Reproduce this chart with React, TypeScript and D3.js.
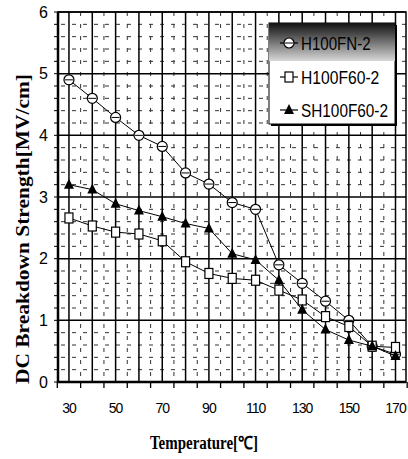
import React from "react";
import { scaleLinear, line, range } from "d3";

const temps = [30, 40, 50, 60, 70, 80, 90, 100, 110, 120, 130, 140, 150, 160, 170];
const fnValues = [4.9, 4.6, 4.29, 4.0, 3.82, 3.39, 3.21, 2.91, 2.8, 1.9, 1.6, 1.31, 1.0, 0.58, 0.45];
const f60Values = [2.66, 2.53, 2.43, 2.4, 2.29, 1.95, 1.76, 1.68, 1.65, 1.49, 1.33, 1.06, 0.9, 0.58, 0.56];
const shValues = [3.2, 3.12, 2.89, 2.78, 2.68, 2.57, 2.49, 2.08, 1.98, 1.65, 1.17, 0.85, 0.68, 0.58, 0.42];
const seriesNames = ["H100FN-2", "H100F60-2", "SH100F60-2"];
const xTickLabels = [30, 50, 70, 90, 110, 130, 150, 170];
const yTickLabels = [0, 1, 2, 3, 4, 5, 6];

const narrow = "'Liberation Sans Narrow', 'Arial Narrow', 'Liberation Sans', Arial, sans-serif";

function Marker({ kind, x, y }: { kind: string; x: number; y: number }) {
  if (kind === "circle") {
    return (
      <g>
        <circle cx={x} cy={y} r={5} fill="white" stroke="black" strokeWidth={1.2} />
        <line x1={x - 4} x2={x + 4} y1={y} y2={y} stroke="black" strokeWidth={1} />
      </g>
    );
  }
  if (kind === "square") {
    return <rect x={x - 4} y={y - 5} width={8} height={10} fill="white" stroke="black" strokeWidth={1.2} />;
  }
  return <path d={`M${x},${y - 6}L${x + 5},${y + 4}L${x - 5},${y + 4}Z`} fill="black" />;
}

export default function App() {
  const width = 408,
    height = 459;
  const left = 58,
    right = 406,
    top = 12,
    bottom = 382;

  const x = scaleLinear().domain([25.3, 174.5]).range([left, right]);
  const y = scaleLinear().domain([0, 6]).range([bottom, top]);

  const series = [
    { name: seriesNames[0], values: fnValues, kind: "circle" },
    { name: seriesNames[1], values: f60Values, kind: "square" },
    { name: seriesNames[2], values: shValues, kind: "triangle" }
  ];

  const path = line<number>()
    .x((_, i) => x(temps[i]))
    .y(d => y(d));

  const majorX = range(30, 171, 10);
  const minorX = range(35, 171, 10);
  const minorY = range(0, 30).map(i => i * 0.2).filter(v => Math.abs(v - Math.round(v)) > 0.01);
  const xTicks = range(25, 176, 10);

  // legend
  const lx = 269,
    ly = 23,
    lw = 126,
    lh = 101;
  const rowY = [43, 77, 110];

  return (
    <svg
      width={width}
      height={height}
      style={{ position: "absolute", left: 0, top: 0, background: "white" }}
    >
      <defs>
        <linearGradient id="legendShade" x1="0" y1="0" x2="0" y2="1">
          <stop offset="0" stopColor="#111" />
          <stop offset="0.35" stopColor="#555" />
          <stop offset="1" stopColor="#d8d8d8" />
        </linearGradient>
      </defs>
      <rect width={width} height={height} fill="white" />

      {/* minor dashed grid */}
      {minorY.map(v => (
        <line
          key={"my" + v}
          x1={left}
          x2={right}
          y1={y(v)}
          y2={y(v)}
          stroke="#333"
          strokeWidth={1}
          strokeDasharray="4 7"
          strokeDashoffset={-3}
        />
      ))}
      {minorX.map(v => (
        <line
          key={"mx" + v}
          x1={x(v)}
          x2={x(v)}
          y1={top}
          y2={bottom}
          stroke="#333"
          strokeWidth={1}
          strokeDasharray="4 8"
        />
      ))}

      {/* major grid */}
      {yTickLabels.map(v => (
        <line key={"gy" + v} x1={left} x2={right} y1={y(v)} y2={y(v)} stroke="black" strokeWidth={1.5} />
      ))}
      {majorX.map(v => (
        <line key={"gx" + v} x1={x(v)} x2={x(v)} y1={top} y2={bottom} stroke="black" strokeWidth={1.5} />
      ))}

      {/* frame */}
      <rect x={left} y={top} width={right - left} height={bottom - top} fill="none" stroke="black" strokeWidth={1.5} />
      <line x1={left} x2={left} y1={top} y2={bottom + 1} stroke="black" strokeWidth={2.5} />
      <line x1={left} x2={right} y1={bottom} y2={bottom} stroke="black" strokeWidth={2.5} />

      {/* ticks */}
      {xTicks.map(v => (
        <line key={"xt" + v} x1={x(v)} x2={x(v)} y1={bottom} y2={bottom + 6} stroke="black" strokeWidth={1.3} />
      ))}
      {range(0, 31).map(i => (
        <line
          key={"yt" + i}
          x1={left - 4}
          x2={left}
          y1={y(i * 0.2)}
          y2={y(i * 0.2)}
          stroke="black"
          strokeWidth={1}
        />
      ))}

      {/* tick labels */}
      {yTickLabels.map(v => (
        <text
          key={"yl" + v}
          x={48}
          y={y(v)}
          dy="0.35em"
          textAnchor="end"
          fontFamily="'Liberation Sans', Arial, sans-serif"
          fontSize={16}
        >
          {v}
        </text>
      ))}
      {xTickLabels.map(v => (
        <text
          key={"xl" + v}
          x={x(v)}
          y={408}
          dy="0.35em"
          textAnchor="middle"
          fontFamily={narrow}
          fontSize={14}
          letterSpacing={-1}
        >
          {v}
        </text>
      ))}

      {/* series */}
      {series.map(s => (
        <g key={s.name}>
          <path d={path(s.values) || ""} fill="none" stroke="black" strokeWidth={1} />
          {s.values.map((v, i) => (
            <Marker key={i} kind={s.kind} x={x(temps[i])} y={y(v)} />
          ))}
        </g>
      ))}

      {/* legend */}
      <rect x={lx + 2} y={ly + 2} width={lw} height={lh} fill="black" />
      <rect x={lx} y={ly} width={lw} height={lh} fill="white" stroke="black" strokeWidth={1} />
      <rect x={lx} y={ly} width={lw} height={38} fill="url(#legendShade)" />
      {series.map((s, i) => (
        <g key={"lg" + s.name}>
          <line x1={lx + 11} x2={lx + 29} y1={rowY[i]} y2={rowY[i]} stroke="black" strokeWidth={1.2} />
          <Marker kind={s.kind} x={lx + 20} y={rowY[i]} />
          <text
            x={lx + 32}
            y={rowY[i]}
            dy="0.36em"
            fontFamily={narrow}
            fontSize={19}
            textLength={s.name.length * 8.7}
            lengthAdjust="spacingAndGlyphs"
          >
            {s.name}
          </text>
        </g>
      ))}

      {/* axis titles */}
      <text
        transform={`translate(22, ${(bottom + 76) / 2}) rotate(-90)`}
        textAnchor="middle"
        dy="0.35em"
        fontFamily="'Liberation Serif', 'Times New Roman', serif"
        fontWeight="bold"
        fontSize={19}
        textLength={310}
        lengthAdjust="spacingAndGlyphs"
      >
        DC Breakdown Strength[MV/cm]
      </text>
      <text
        x={204}
        y={443}
        dy="0.35em"
        textAnchor="middle"
        fontFamily="'Liberation Serif', 'Times New Roman', serif"
        fontWeight="bold"
        fontSize={18}
        textLength={108}
        lengthAdjust="spacingAndGlyphs"
      >
        Temperature[℃]
      </text>
    </svg>
  );
}
